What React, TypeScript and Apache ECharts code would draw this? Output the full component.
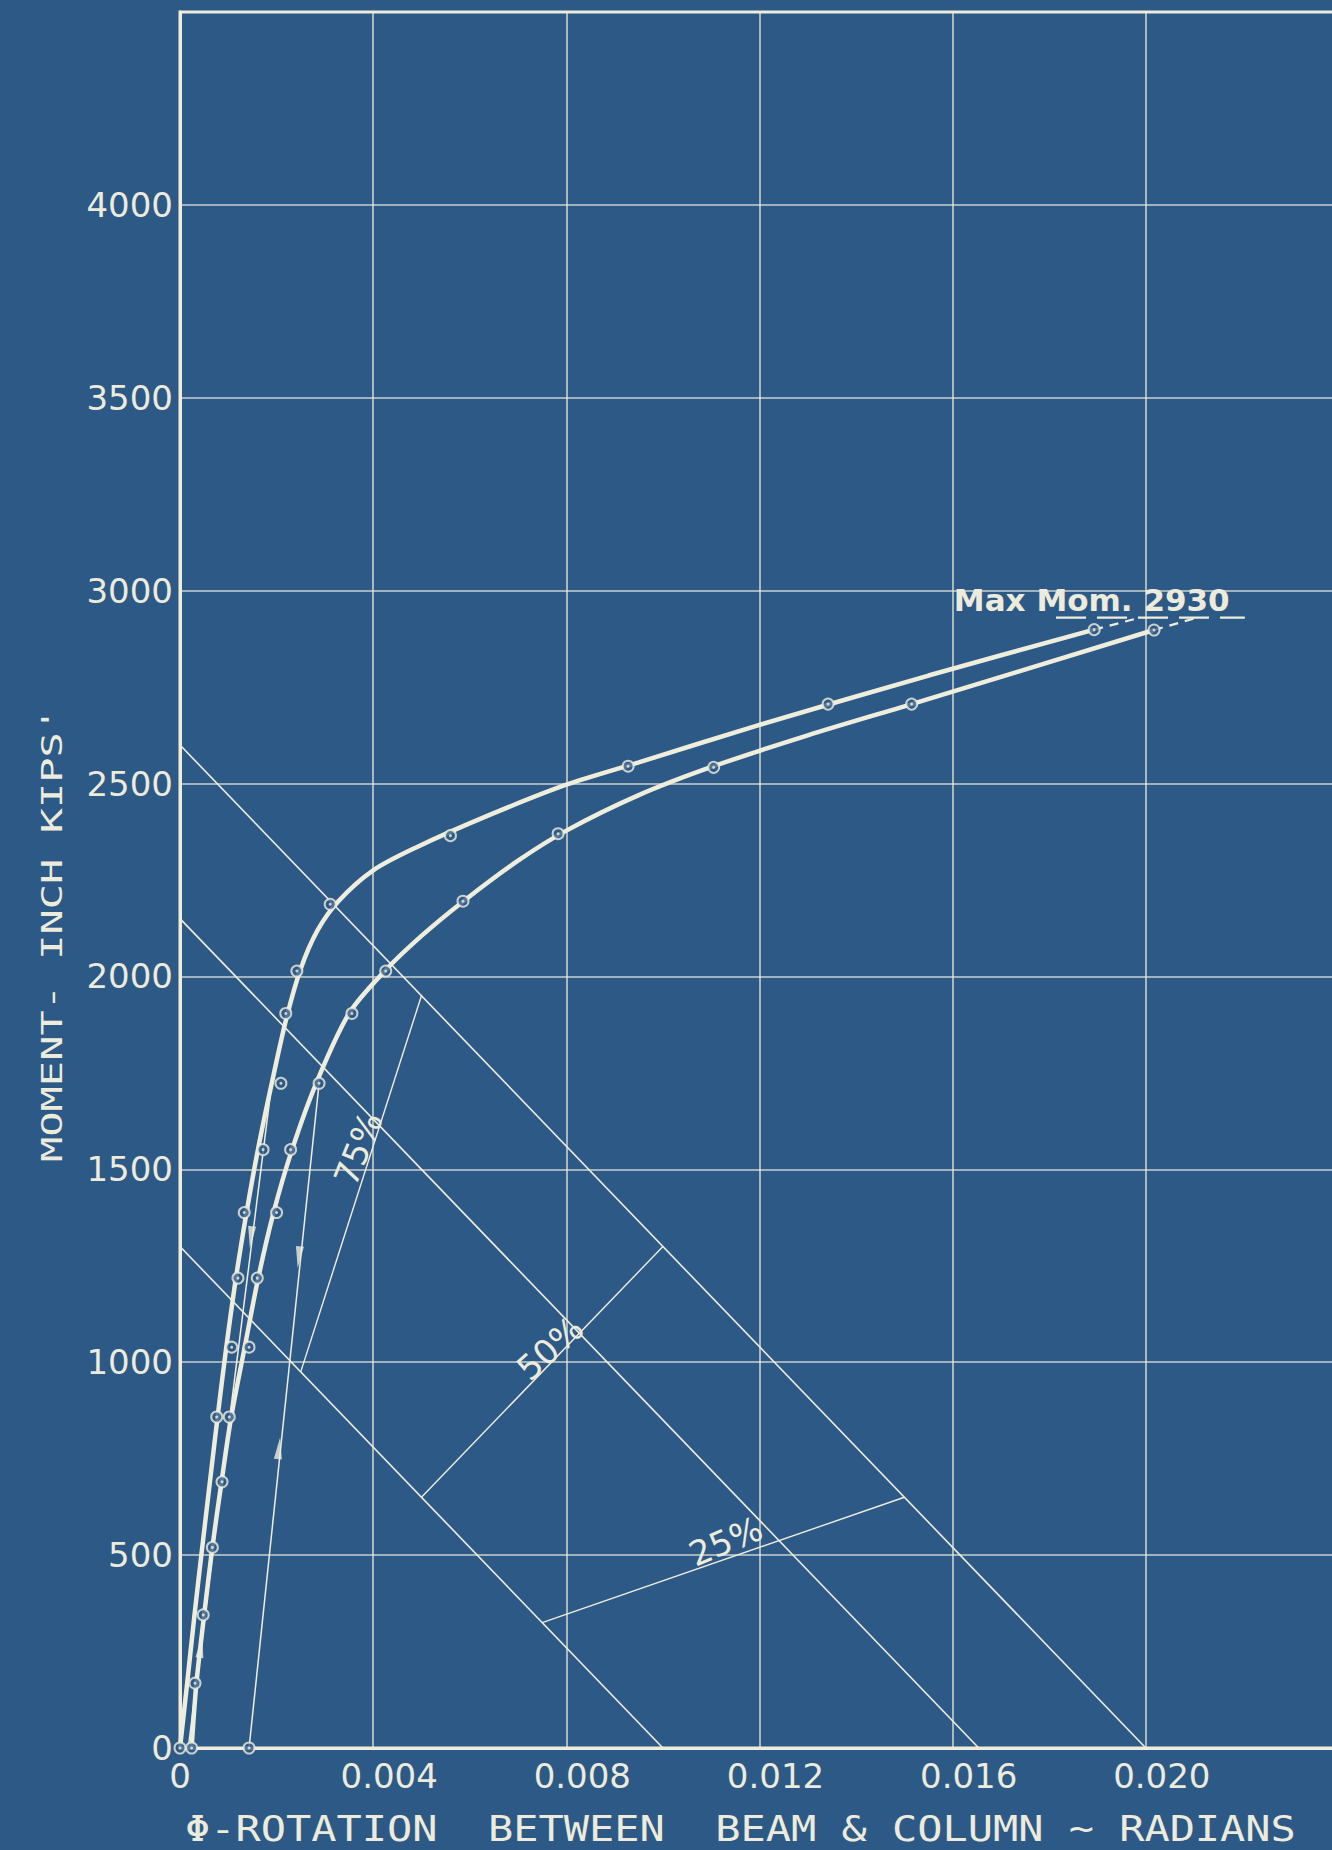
import React, { useEffect, useRef } from "react";
import * as echarts from "echarts";

// ---------- data (rotation in radians, moment in inch-kips) ----------
const xTickStep = 0.004;
const yTickStep = 500;

// faired thick curve, left (stiffer) connection
const curveALine: [number, number][] = [
  [0, 0], [0.00015, 170], [0.0003, 345], [0.00046, 520], [0.00062, 690],
  [0.00078, 860], [0.00096, 1040], [0.00116, 1220], [0.00138, 1390], [0.00162, 1555],
  [0.0019, 1723], [0.0022, 1890], [0.0025, 2020], [0.00285, 2120], [0.00328, 2195],
  [0.004, 2275], [0.0049, 2335], [0.0064, 2418], [0.008, 2497], [0.0095, 2555],
  [0.012, 2652], [0.0155, 2780], [0.01893, 2899],
];
// faired thick curve, right connection
const curveBLine: [number, number][] = [
  [0.00024, 0], [0.00034, 168], [0.0005, 345], [0.00067, 520], [0.00086, 690],
  [0.00106, 858], [0.00134, 1039], [0.00162, 1218], [0.00194, 1389], [0.00232, 1551],
  [0.00282, 1723], [0.0035, 1904], [0.00424, 2014], [0.005, 2105], [0.00587, 2195],
  [0.007, 2300], [0.008, 2378], [0.0095, 2470], [0.01105, 2545], [0.013, 2625],
  [0.01515, 2706], [0.02017, 2898],
];
// measured points (circles)
const curveAPoints: [number, number][] = [
  [0, 0], [0.00076, 858], [0.00107, 1039], [0.0012, 1218], [0.00133, 1388],
  [0.00172, 1551], [0.00209, 1723], [0.00219, 1904], [0.00242, 2014], [0.00311, 2187],
  [0.0056, 2365], [0.00928, 2545], [0.01342, 2706], [0.01893, 2899],
];
const curveBPoints: [number, number][] = [
  [0.00024, 0], [0.00031, 168], [0.00048, 345], [0.00067, 520], [0.00087, 690],
  [0.00102, 858], [0.00143, 1039], [0.0016, 1218], [0.002, 1388], [0.00229, 1551],
  [0.00288, 1723], [0.00356, 1904], [0.00426, 2014], [0.00586, 2195], [0.00783, 2370],
  [0.01105, 2542], [0.01515, 2706], [0.02017, 2898],
];
const residualPoint: [number, number][] = [[0.00143, 0]];

// unloading / reloading lines
const unloadA: [number, number][] = [[0.0019, 1723], [0.00017, 0]];
const unloadB: [number, number][] = [[0.00288, 1723], [0.00143, 0]];
const arrowPoints: [number, number][] = [[0.00147, 1324], [0.00043, 262], [0.00246, 1272], [0.00205, 777]];
const arrowDirs: number[] = [174, -7, 174, -6];

// beam lines
const beamLines: [number, number][][] = [
  [[0, 2600], [0.02, 0]],
  [[0, 2150], [0.01654, 0]],
  [[0, 1300], [0.01, 0]],
];
// restraint lines (through origin) between beam lines
const ratioLines: [number, number][][] = [
  [[0.0025, 975], [0.005, 1950]],
  [[0.005, 650], [0.01, 1300]],
  [[0.0075, 325], [0.015, 650]],
];
const ratioLabels = ["75%", "50%", "25%"];
const ratioLabelAt: [number, number][] = [[0.00369, 1554], [0.00766, 1036], [0.0113, 536]];
const ratioLabelAngle = [68, 42, 23];

// maximum moment
const maxMoment = 2930;
const maxExtA: [number, number][] = [[0.01893, 2899], [0.01988, maxMoment]];
const maxExtB: [number, number][] = [[0.02017, 2898], [0.02106, maxMoment]];
const maxUnderline: [number, number][] = [[0.01814, maxMoment], [0.02205, maxMoment]];
const maxLabel = "Max Mom. 2930";
const maxLabelAt: [number, number] = [0.01888, 2977];

const xTitle = "Φ-ROTATION  BETWEEN  BEAM & COLUMN ~ RADIANS";
const yTitle = "MOMENT- INCH KIPS'";

// ---------- styles ----------
const BG = "#2d5987";
const INK = "#efeedd";
const LABEL_INK = "#ecebdc";
const GRID_INK = "rgba(236,236,222,0.82)";
const SANS = "DejaVu Sans";
const MONO = "DejaVu Sans Mono";

function thin(data: [number, number][], width = 1.6) {
  return {
    type: "line", data, symbol: "none", silent: true, z: 2,
    lineStyle: { color: INK, width },
  };
}

export default function App() {
  const ref = useRef<HTMLDivElement>(null);
  useEffect(() => {
    document.body.style.margin = "0";
    document.body.style.overflow = "hidden";
    document.documentElement.style.overflow = "hidden";
    document.body.style.background = BG;
    const chart = echarts.init(ref.current!, null, { renderer: "svg" });
    const series: any[] = [];
    beamLines.forEach((l) => series.push(thin(l)));
    ratioLines.forEach((l) => series.push(thin(l, 1.4)));
    series.push(thin(unloadA, 1.5));
    series.push(thin(unloadB, 1.5));
    [curveALine, curveBLine].forEach((d) =>
      series.push({
        type: "line", data: d, symbol: "none", silent: true, z: 4,
        smooth: 0.3,
        lineStyle: { color: INK, width: 4.5 },
      })
    );
    [maxExtA, maxExtB].forEach((d) =>
      series.push({
        type: "line", data: d, symbol: "none", silent: true, z: 4,
        lineStyle: { color: INK, width: 2.2, type: [9, 7] },
      })
    );
    series.push({
      type: "line", data: maxUnderline, symbol: "none", silent: true, z: 4,
      lineStyle: { color: INK, width: 2.4, type: [30, 11] },
    });
    const pts = [...curveAPoints, ...curveBPoints, ...residualPoint];
    series.push({
      type: "scatter", data: pts, symbol: "circle", symbolSize: 11, z: 5, silent: true,
      itemStyle: { color: BG, borderColor: INK, borderWidth: 2 },
    });
    series.push({
      type: "scatter", data: pts, symbol: "circle", symbolSize: 3, z: 6, silent: true,
      itemStyle: { color: INK },
    });
    series.push({
      type: "scatter", z: 6, silent: true, symbol: "triangle", symbolSize: [8, 22],
      itemStyle: { color: INK },
      data: arrowPoints.map((p, i) => ({ value: p, symbolRotate: arrowDirs[i] })),
    });
    series.push({
      type: "scatter", z: 7, silent: true, symbolSize: 1,
      itemStyle: { color: BG, opacity: 1 },
      label: {
        show: true, position: "inside", formatter: "{b}", opacity: 1,
        color: LABEL_INK, fontSize: 34, fontFamily: SANS,
        textBorderWidth: 0, textBorderColor: "transparent",
      },
      data: ratioLabels.map((t, i) => ({
        name: t, value: ratioLabelAt[i], label: { rotate: ratioLabelAngle[i] },
      })),
    });
    series.push({
      type: "scatter", z: 7, silent: true, symbolSize: 1,
      itemStyle: { color: BG, opacity: 1 },
      label: {
        show: true, position: "inside", formatter: "{b}", opacity: 1,
        color: LABEL_INK, fontSize: 31, fontFamily: SANS, fontWeight: "bold",
        textBorderWidth: 0, textBorderColor: "transparent",
      },
      data: [{ name: maxLabel, value: maxLabelAt }],
    });

    chart.setOption({
      animation: false,
      backgroundColor: BG,
      grid: {
        left: 180, top: 12, width: 1159, height: 1736,
        show: true, borderColor: INK, borderWidth: 3, backgroundColor: "transparent",
      },
      xAxis: {
        type: "value", min: 0, max: 0.024, interval: xTickStep,
        axisLine: { show: true, onZero: false, lineStyle: { color: INK, width: 3 } },
        axisTick: { show: false },
        splitLine: { show: true, lineStyle: { color: GRID_INK, width: 1.6 } },
        axisLabel: {
          margin: 11,
          formatter: (v: number) => {
            if (v > 0.0201) return "";
            if (v === 0) return "{z|0}";
            return "{n|" + v.toFixed(3) + "}";
          },
          rich: {
            z: { fontSize: 34, color: LABEL_INK, fontFamily: SANS },
            n: { fontSize: 34, color: LABEL_INK, fontFamily: SANS, padding: [0, 0, 0, 32] },
          },
        },
      },
      yAxis: {
        type: "value", min: 0, max: 4500, interval: yTickStep,
        axisLine: { show: true, onZero: false, lineStyle: { color: INK, width: 3 } },
        axisTick: { show: false },
        splitLine: { show: true, lineStyle: { color: GRID_INK, width: 1.6 } },
        axisLabel: {
          margin: 7, fontSize: 34, color: LABEL_INK, fontFamily: SANS,
          padding: [0, 0, 18, 0],
          formatter: (v: number) => (v >= 4500 ? "" : String(v)),
        },
      },
      graphic: [
        {
          type: "text", x: 185, y: 1829, scaleX: 1.165, silent: true,
          style: {
            text: xTitle, fill: LABEL_INK, fontSize: 36, fontFamily: MONO,
            align: "left", verticalAlign: "middle",
          },
        },
        {
          type: "text", x: 52, y: 1162, rotation: Math.PI / 2, scaleY: 0.66, silent: true,
          style: {
            text: yTitle, fill: LABEL_INK, fontSize: 42, fontFamily: MONO,
            align: "left", verticalAlign: "middle",
          },
        },
      ],
      series,
    });
    return () => chart.dispose();
  }, []);
  return <div ref={ref} style={{ width: 1345, height: 1850 }} />;
}
